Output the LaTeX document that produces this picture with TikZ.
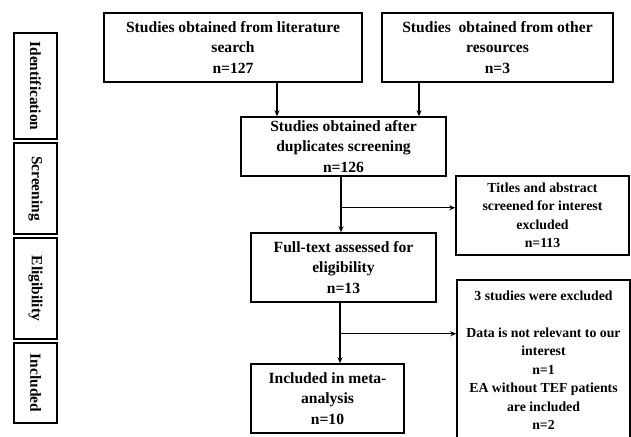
\documentclass[tikz,border=0pt]{standalone}
\usepackage{fontspec}
\setmainfont{Liberation Serif}
\usetikzlibrary{arrows.meta, positioning}

\begin{document}
\begin{tikzpicture}[x=1pt, y=-1pt, >={Stealth[length=6pt,width=5pt]},
  box/.style={draw, line width=1.5pt, align=center, inner sep=0pt, font=\fontsize{15.6}{20.5}\selectfont\bfseries},
  sidebox/.style={box, font=\fontsize{13.8}{18.5}\selectfont\bfseries},
  stage/.style={draw, line width=1.5pt, rotate=-90, inner sep=0pt, minimum height=43pt, font=\fontsize{15.4}{18}\selectfont\bfseries},
  link/.style={->, line width=1.3pt}]

\clip (0,0) rectangle (631,436);

% Stage labels
\node[stage, minimum width=106pt] at (35.5,86) (ident) {Identification};
\node[stage, minimum width=91pt] at (35.5,188.5) (screen) {Screening};
\node[stage, minimum width=101pt] at (35.5,288.5) (elig) {Eligibility};
\node[stage, minimum width=80pt] at (35.5,383) (incl) {Included};

% Identification boxes
\node[box, minimum width=258pt, minimum height=69pt] at (233,47.5) (lit) {Studies obtained from literature\\search\\n=127};
\node[box, minimum width=231pt, minimum height=69pt] at (497.5,47.5) (other) {Studies\ \ obtained from other\\resources\\n=3};

% Screening
\node[box, minimum width=205pt, minimum height=59pt] at (343.5,146.5) (dup) {Studies obtained after\\duplicates screening\\n=126};
\node[sidebox, minimum width=173pt, minimum height=79pt] at (542.5,215.5) (titles) {Titles and abstract\\screened for interest\\excluded\\n=113};

% Eligibility
\node[box, minimum width=185pt, minimum height=69pt] at (343.5,267.5) (full) {Full-text assessed for\\eligibility\\n=13};
\node[sidebox, minimum width=173pt, minimum height=160pt] at (543.5,360) (excl) {3 studies were excluded\\[18.5pt]Data is not relevant to our\\interest\\n=1\\EA without TEF patients\\are included\\n=2};

% Included
\node[box, minimum width=153pt, minimum height=69pt] at (327.5,398.5) (meta) {Included in meta-\\analysis\\n=10};

% Connections
\draw[link] ([xshift=44pt]lit.south) -- ([xshift=44pt]lit.south |- dup.north);
\draw[link] ([xshift=-78.5pt]other.south) -- ([xshift=-78.5pt]other.south |- dup.north);
\draw[link] ([xshift=-2.5pt]dup.south) -- ([xshift=-2.5pt]dup.south |- full.north);
\coordinate (b1) at ([xshift=-2.5pt, yshift=-31pt]dup.south);
\draw[link] (b1) -- (b1 -| titles.west);
\draw[link] ([xshift=-3.5pt]full.south) -- ([xshift=-3.5pt]full.south |- meta.north);
\coordinate (b2) at ([xshift=-3.5pt, yshift=-31pt]full.south);
\draw[link] (b2) -- (b2 -| excl.west);
\end{tikzpicture}
\end{document}
